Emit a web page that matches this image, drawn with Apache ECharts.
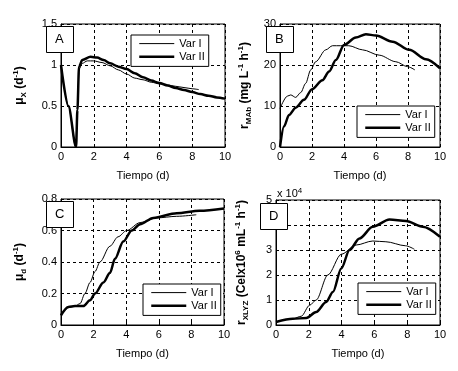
<!DOCTYPE html>
<html>
<head>
    <meta charset="utf-8">
    <style type="text/css">
        html,body { margin: 0px; padding: 0px; background: #fff; }
    </style>
    <script src="https://cdn.jsdelivr.net/npm/echarts@6/dist/echarts.min.js"></script>
</head>
<body>
    <div id="chart" style="width: 458px; height: 371px;"></div>
    <script type="text/javascript">
        // datos (tiempo en dias)
        var tMuxI   = [0, 0.45, 0.9, 1.0, 1.1, 1.3, 1.6, 2, 2.5, 3, 3.5, 4, 4.5, 5, 5.5, 6, 6.5, 7, 7.5, 8, 8.4];
        var muxI    = [1.0, 0.5, 0.0, 0.45, 0.95, 1.02, 1.05, 1.05, 1.03, 0.99, 0.94, 0.89, 0.84, 0.82, 0.79, 0.77, 0.755, 0.74, 0.725, 0.71, 0.70];
        var tMuxII  = [0, 0.45, 0.92, 1.0, 1.1, 1.3, 1.8, 2.2, 2.6, 3, 3.5, 4, 4.5, 5, 5.5, 6, 6.5, 7, 7.5, 8, 8.5, 9, 9.5, 10];
        var muxII   = [1.0, 0.5, 0.0, 0.45, 0.98, 1.06, 1.10, 1.09, 1.06, 1.02, 0.98, 0.95, 0.90, 0.85, 0.81, 0.78, 0.75, 0.72, 0.695, 0.67, 0.645, 0.625, 0.605, 0.59];

        var tRmabI  = [0, 0.46, 0.67, 0.98, 1.3, 1.6, 1.92, 2.23, 2.86, 3.28, 4.3, 5.16, 6.2, 7.24, 7.97, 8.43];
        var rmabI   = [9.4, 12.4, 12.7, 12.1, 13.3, 15.5, 18.8, 20.8, 23.7, 24.7, 24.7, 23.7, 22.4, 20.8, 19.6, 18.8];
        var tRmabII = [0, 0.25, 0.56, 0.98, 1.5, 2.0, 2.65, 3.07, 3.49, 4.0, 4.74, 5.37, 6.0, 7.04, 8.08, 9.12, 10];
        var rmabII  = [0, 5.0, 7.8, 9.6, 11.5, 14.1, 16.3, 18.4, 21.2, 24.9, 26.7, 27.5, 27.2, 25.7, 23.7, 21.4, 19.2];

        var tMudI   = [0, 0.45, 0.86, 1.17, 1.47, 1.78, 2.09, 2.39, 3.0, 3.5, 4.03, 4.85, 5.87, 7.1, 8.3];
        var mudI    = [0.062, 0.11, 0.12, 0.136, 0.2, 0.27, 0.34, 0.40, 0.50, 0.56, 0.60, 0.65, 0.68, 0.69, 0.70];
        var tMudII  = [0, 0.45, 0.86, 1.37, 1.78, 2.09, 2.6, 3.0, 3.31, 3.82, 4.34, 4.85, 5.66, 7.1, 8.5, 10];
        var mudII   = [0.062, 0.115, 0.12, 0.12, 0.157, 0.2, 0.27, 0.33, 0.42, 0.53, 0.60, 0.64, 0.68, 0.71, 0.725, 0.74];

        var tRxI    = [0, 1.03, 1.54, 2.05, 2.45, 3.16, 3.98, 4.89, 5.9, 6.7, 7.9, 8.44];
        var rxI     = [1200, 2500, 3500, 7900, 10000, 20000, 28300, 32000, 33600, 33300, 31700, 30300];
        var tRxII   = [0, 1.03, 1.85, 2.45, 3.06, 3.47, 3.98, 4.48, 5.09, 5.9, 6.92, 7.93, 8.95, 10];
        var rxII    = [1200, 2500, 2800, 5200, 9200, 13200, 22600, 30000, 34600, 39300, 42200, 41600, 39300, 35300];

        var letras = ['A', 'B', 'C', 'D'];
        var nombres = ['Var I', 'Var II'];

        function pares(t, v){
            var out = [];
            for (var i = 0; i < t.length; i++) out.push([t[i], v[i]]);
            return out;
        }

        var rich = {
            b:   { fontSize: 12, fontWeight: 'bold', fontFamily: 'Liberation Sans', color: '#000' },
            sub: { fontSize: 8, fontWeight: 'bold', fontFamily: 'Liberation Sans', color: '#000', verticalAlign: 'bottom', lineHeight: 16 },
            sup: { fontSize: 8, fontWeight: 'bold', fontFamily: 'Liberation Sans', color: '#000', verticalAlign: 'top', lineHeight: 16 }
        };

        var grids = [
            { left: 61,  top: 24,  width: 164, height: 123 },
            { left: 280, top: 24,  width: 160, height: 123 },
            { left: 61,  top: 199, width: 163, height: 126 },
            { left: 276, top: 200, width: 164, height: 125 }
        ];
        grids.forEach(function(g){ g.show = true; g.borderColor = '#000'; g.borderWidth = 1; });

        var gris = { show: true, lineStyle: { color: '#000', width: 1, type: [3, 3] } };
        var ejeTxt = { fontSize: 11, color: '#000', fontFamily: 'Liberation Sans' };

        var xAxes = [0, 1, 2, 3].map(function(i){
            return {
                gridIndex: i, type: 'value', min: 0, max: 10, interval: 2,
                name: 'Tiempo (d)', nameLocation: 'middle', nameGap: 23,
                nameTextStyle: ejeTxt,
                axisLine: { lineStyle: { color: '#000' } },
                axisTick: { inside: true, length: 3, lineStyle: { color: '#000' } },
                axisLabel: { fontSize: 11, color: '#000', fontFamily: 'Liberation Sans', margin: 4 },
                splitLine: gris
            };
        });

        var yConf = [
            { min: 0, max: 1.5, interval: 0.5, gap: 33, name: '{b|μ}{sub|X}{b| (d}{sup|-1}{b|)}' },
            { min: 0, max: 30, interval: 10, gap: 27, name: '{b|r}{sub|MAb}{b| (mg L}{sup|-1}{b| h}{sup|-1}{b|)}' },
            { min: 0, max: 0.8, interval: 0.2, gap: 33, name: '{b|μ}{sub|d}{b| (d}{sup|-1}{b|)}' },
            { min: 0, max: 50000, interval: 10000, gap: 26, name: '{b|r}{sub|XLYZ}{b| (Celx10}{sup|6}{b| mL}{sup|-1}{b| h}{sup|-1}{b|)}' }
        ];
        var yAxes = yConf.map(function(c, i){
            return {
                gridIndex: i, type: 'value', min: c.min, max: c.max, interval: c.interval,
                name: c.name, nameLocation: 'middle', nameRotate: 90, nameGap: c.gap,
                nameTextStyle: { rich: rich },
                axisLine: { show: true, lineStyle: { color: '#000' } },
                axisTick: { show: true, inside: true, length: 3, lineStyle: { color: '#000' } },
                axisLabel: {
                    fontSize: 11, color: '#000', fontFamily: 'Liberation Sans', margin: 4,
                    formatter: i === 3 ? function(v){ return String(v / 10000); } : null
                },
                splitLine: gris
            };
        });

        var datos = [
            [pares(tMuxI, muxI), pares(tMuxII, muxII)],
            [pares(tRmabI, rmabI), pares(tRmabII, rmabII)],
            [pares(tMudI, mudI), pares(tMudII, mudII)],
            [pares(tRxI, rxI), pares(tRxII, rxII)]
        ];
        var series = [];
        datos.forEach(function(par, i){
            par.forEach(function(d, k){
                series.push({
                    name: nombres[k], type: 'line', xAxisIndex: i, yAxisIndex: i,
                    data: d, symbol: 'none', smooth: 0.3, smoothMonotone: 'x',
                    lineStyle: { color: '#000', width: k === 0 ? 1 : 2.5 },
                    itemStyle: { color: '#000' }
                });
            });
        });

        // cajas de leyenda
        var legPos = [
            { left: 131, top: 35 },
            { left: 357, top: 106 },
            { left: 143, top: 284 },
            { left: 358, top: 283 }
        ];
        var legends = legPos.map(function(p){
            return {
                left: p.left, top: p.top, orient: 'vertical', data: nombres,
                itemWidth: 35, itemHeight: 14, itemGap: 2,
                padding: [3, 4, 4, 7],
                borderColor: '#000', borderWidth: 1, borderRadius: 0, backgroundColor: '#fff',
                itemStyle: { opacity: 0 },
                lineStyle: { width: 'inherit' },
                textStyle: { fontSize: 11, color: '#000', fontFamily: 'Liberation Sans' },
                selectedMode: false
            };
        });

        // recuadros con letra
        var cajas = [[46, 26], [266, 26], [46, 201], [260, 203]];
        var graphic = [];
        cajas.forEach(function(c, i){
            graphic.push({
                type: 'rect', left: c[0], top: c[1], z: 100,
                shape: { width: 27, height: 26 },
                style: { fill: '#fff', stroke: '#000', lineWidth: 1 }
            });
            graphic.push({
                type: 'text', left: c[0] + 9, top: c[1] + 7, z: 101,
                style: { text: letras[i], fontSize: 13, fill: '#000', fontFamily: 'Liberation Sans' }
            });
        });
        graphic.push({
            type: 'text', left: 277, top: 187, z: 101,
            style: {
                text: '{t|x 10}{s|4}',
                rich: {
                    t: { fontSize: 11, fill: '#000', fontFamily: 'Liberation Sans' },
                    s: { fontSize: 8, fill: '#000', fontFamily: 'Liberation Sans', verticalAlign: 'top', lineHeight: 14 }
                }
            }
        });

        var myChart = echarts.init(document.getElementById('chart'));
        myChart.setOption({
            animation: false,
            backgroundColor: '#fff',
            grid: grids,
            xAxis: xAxes,
            yAxis: yAxes,
            legend: legends,
            graphic: graphic,
            series: series
        });
    </script>
</body>
</html>
